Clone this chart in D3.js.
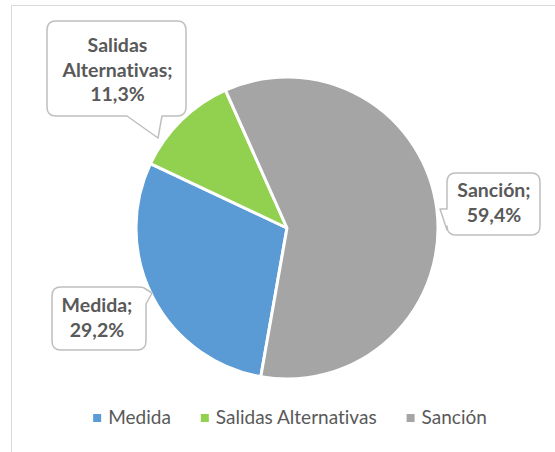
<!DOCTYPE html>
<html>
<head>
<meta charset="utf-8">
<script src="https://cdn.jsdelivr.net/npm/d3@7"></script>
<style>
  html, body { margin: 0; padding: 0; background: #ffffff; }
  svg { display: block; }
  text { font-family: Lato, "Noto Sans", sans-serif; font-variant-ligatures: none; font-feature-settings: "liga" 0, "clig" 0; }
</style>
</head>
<body>
<svg id="chart" width="555" height="452"></svg>
<script>
// ---- data ----
const categories = ["Medida", "Salidas Alternativas", "Sanción"];
const values = [29.2, 11.3, 59.4];
const colors = ["#5B9BD5", "#92D050", "#A5A5A5"];

// ---- layout ----
const cx = 287, cy = 228, R = 151;
const startDeg = 190;

const svg = d3.select("#chart");

// chart area border
svg.append("rect")
  .attr("x", 11.5).attr("y", 5.5)
  .attr("width", 700).attr("height", 600)
  .attr("fill", "#ffffff")
  .attr("stroke", "#d9d9d9").attr("stroke-width", 1);

const pie = d3.pie().sort(null).value(d => d.v)
  .startAngle(startDeg * Math.PI / 180)
  .endAngle((startDeg + 360) * Math.PI / 180);
const arc = d3.arc().innerRadius(0).outerRadius(R);

const data = categories.map((c, i) => ({ name: c, v: values[i], color: colors[i] }));
const arcs = pie(data);

const g = svg.append("g").attr("transform", `translate(${cx},${cy})`);
g.selectAll("path.slice").data(arcs).enter().append("path")
  .attr("class", "slice")
  .attr("d", arc)
  .attr("fill", d => d.data.color)
  .attr("stroke", "#ffffff")
  .attr("stroke-width", 3)
  .attr("stroke-linejoin", "round");

// ---- callouts ----
const boxes = {
  "Medida":               { x0: 52,  y0: 287, x1: 146, y1: 350, side: "right",  b0: 287, b1: 304, tip: [152, 293], tx: 97,    ty: 312 },
  "Salidas Alternativas": { x0: 47,  y0: 21,  x1: 186, y1: 116, side: "bottom", b0: 127, b1: 162, tip: [158, 138], tx: 117.5, ty: 52 },
  "Sanción":              { x0: 447, y0: 173, x1: 540, y1: 235, side: "left",   b0: 209, b1: 230, tip: [440, 209], tx: 494,   ty: 197 }
};

function calloutPath(b) {
  const r = 9;
  const p = d3.path();
  const { x0, y0, x1, y1 } = b;
  p.moveTo(x0 + r, y0);
  p.lineTo(x1 - r, y0);
  if (b.side === "right") {
    p.quadraticCurveTo(x1 - 3, y0, x1 - 2, y0 + 1);
    p.lineTo(b.tip[0], b.tip[1]);
    p.lineTo(x1, b.b1);
  } else {
    p.quadraticCurveTo(x1, y0, x1, y0 + r);
  }
  p.lineTo(x1, y1 - r);
  p.quadraticCurveTo(x1, y1, x1 - r, y1);
  if (b.side === "bottom") {
    p.lineTo(b.b1, y1);
    p.lineTo(b.tip[0], b.tip[1]);
    p.lineTo(b.b0, y1);
  }
  p.lineTo(x0 + r, y1);
  p.quadraticCurveTo(x0, y1, x0, y1 - r);
  if (b.side === "left") {
    p.lineTo(x0, b.b1);
    p.lineTo(b.tip[0], b.tip[1]);
    p.lineTo(x0, b.b0);
  }
  p.lineTo(x0, y0 + r);
  p.quadraticCurveTo(x0, y0, x0 + r, y0);
  p.closePath();
  return p.toString();
}

const fmt = v => d3.format(".1f")(v).replace(".", ",") + "%";

data.forEach(d => {
  const b = boxes[d.name];
  svg.append("path")
    .attr("d", calloutPath(b))
    .attr("fill", "#ffffff")
    .attr("stroke", "#bfbfbf")
    .attr("stroke-width", 1.5)
    .attr("stroke-linejoin", "round");
  const words = d.name.split(" ");
  words[words.length - 1] += ";";
  const lines = words.concat([fmt(d.v)]);
  const t = svg.append("text")
    .attr("text-anchor", "middle")
    .attr("fill", "#595959")
    .attr("font-weight", "bold")
    .attr("font-size", 19.5);
  lines.forEach((ln, i) => {
    t.append("tspan").attr("x", b.tx).attr("y", b.ty + i * 24.5).text(ln);
  });
});

// ---- legend ----
const legend = svg.append("g");
let lx = 0;
data.forEach((d) => {
  const it = legend.append("g");
  it.append("rect").attr("x", 0).attr("y", -10).attr("width", 8).attr("height", 8).attr("fill", d.color);
  const tx = it.append("text").attr("x", 15).attr("y", 0)
    .attr("fill", "#595959").attr("font-size", 19).text(d.name);
  const w = 15 + tx.node().getComputedTextLength();
  it.attr("transform", `translate(${lx},0)`);
  lx += w + 30;
});
const totalW = lx - 30;
legend.attr("transform", `translate(${290 - totalW / 2},424)`);
</script>
</body>
</html>
